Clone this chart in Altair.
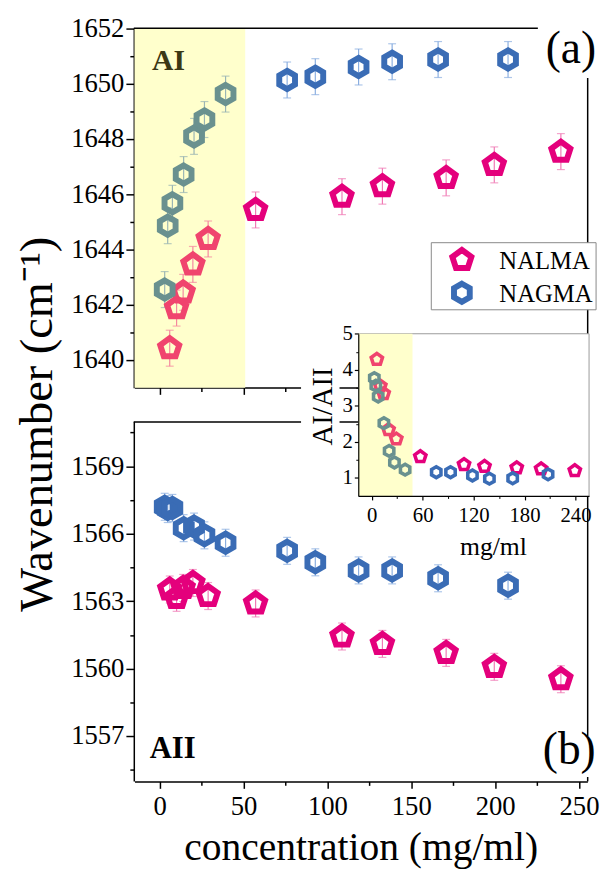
import altair as alt
import pandas as pd

# ---------------- data ----------------
NALMA_CONC = [6.0, 10.1, 14.0, 19.8, 28.9, 57.2, 108.7, 132.8, 170.8, 199.5, 239.2]
NAGMA_CONC = [3.0, 4.8, 7.6, 14.3, 20.5, 26.7, 39.3, 76.0, 92.8, 118.6, 138.6, 166.0, 207.7]
NALMA_LOW_N = 5
NAGMA_LOW_N = 7

NALMA_AI = [1640.43, 1641.88, 1642.45, 1643.46, 1644.38, 1645.43, 1645.91, 1646.29, 1646.59, 1647.06, 1647.54]
NAGMA_AI = [1642.55, 1644.86, 1645.67, 1646.71, 1648.09, 1648.70, 1649.62, 1650.13, 1650.25, 1650.60, 1650.79, 1650.87, 1650.87]
NALMA_AII = [1563.52, 1563.15, 1563.59, 1563.81, 1563.23, 1562.90, 1561.43, 1561.10, 1560.70, 1560.08, 1559.53]
NAGMA_AII = [1567.20, 1567.10, 1567.15, 1566.25, 1566.32, 1565.93, 1565.60, 1565.24, 1564.73, 1564.37, 1564.37, 1564.02, 1563.69]
NALMA_RATIO = [4.29, 3.55, 3.34, 2.34, 2.08, 1.59, 1.37, 1.32, 1.28, 1.25, 1.20]
NAGMA_RATIO = [3.77, 3.56, 3.26, 2.52, 1.75, 1.43, 1.23, 1.16, 1.16, 1.07, 0.98, 0.99, 1.10]

TOP_ERR = 0.65
BOT_ERR = 0.6

LEGEND_NAMES = ["NALMA", "NAGMA"]
SERIES = ["NALMA", "NAGMA", "NALMA low", "NAGMA low"]
SERIES_COLORS = ["#e4007c", "#3a6cb5", "#f0446e", "#6a918f"]
ERR_COLORS = {"NALMA": "#f07ab5", "NAGMA": "#8aaee0", "NALMA low": "#f5889f", "NAGMA low": "#9ab5b4"}
PENT = "M0,-1.1L1.046,-0.34L0.647,0.89L-0.647,0.89L-1.046,-0.34Z"
HEX = "M0,-1L0.866,-0.5L0.866,0.5L0,1L-0.866,0.5L-0.866,-0.5Z"
SERIES_SHAPES = [PENT, HEX, PENT, HEX]

X_TICKS = [0, 50, 100, 150, 200, 250]
X_MINOR = [25, 75, 125, 175, 225]
TOP_TICKS = [1640, 1642, 1644, 1646, 1648, 1650, 1652]
TOP_MINOR = [1641, 1643, 1645, 1647, 1649, 1651]
BOT_TICKS = [1557, 1560, 1563, 1566, 1569]
BOT_MINOR = [1555.5, 1558.5, 1561.5, 1564.5, 1567.5, 1570.5]
IN_X_TICKS = [0, 60, 120, 180, 240]
IN_Y_TICKS = [1, 2, 3, 4, 5]
IN_Y_MINOR = [1.5, 2.5, 3.5, 4.5]

X_DOM = [-15, 255]
TOP_DOM = [1639, 1652]
BOT_DOM = [1555, 1571]
IN_X_DOM = [-16, 256]
IN_Y_DOM = [0.5, 5]
SHADE_MAIN = [-15, 51]
SHADE_INSET = [-16, 48]

FONT = "Liberation Serif, Times New Roman, serif"
YELLOW = "#ffffcc"
W, H = 601, 868


def frame(conc, vals, name, low_n, use_low):
    rows = []
    for i, (c, v) in enumerate(zip(conc, vals)):
        g = f"{name} low" if (use_low and i < low_n) else name
        rows.append({"conc": c, "val": v, "grp": g, "ecol": ERR_COLORS[g]})
    return pd.DataFrame(rows)


top_df = pd.concat([frame(NALMA_CONC, NALMA_AI, "NALMA", NALMA_LOW_N, True),
                    frame(NAGMA_CONC, NAGMA_AI, "NAGMA", NAGMA_LOW_N, True)], ignore_index=True)
bot_df = pd.concat([frame(NALMA_CONC, NALMA_AII, "NALMA", NALMA_LOW_N, False),
                    frame(NAGMA_CONC, NAGMA_AII, "NAGMA", NAGMA_LOW_N, False)], ignore_index=True)
in_df = pd.concat([frame(NALMA_CONC, NALMA_RATIO, "NALMA", NALMA_LOW_N, True),
                   frame(NAGMA_CONC, NAGMA_RATIO, "NAGMA", NAGMA_LOW_N, True)], ignore_index=True)

color_enc = alt.Color("grp:N", scale=alt.Scale(domain=SERIES, range=SERIES_COLORS), legend=None)
shape_enc = alt.Shape("grp:N", scale=alt.Scale(domain=SERIES, range=SERIES_SHAPES), legend=None)


def lin(dom, rng):
    return alt.Scale(domain=dom, range=rng, nice=False, zero=False)


def axis(orient, offset, values, labels=True, tick=7, font=27, pad=7, domain=True, z=0, width=1.5):
    return alt.Axis(orient=orient, offset=offset, values=values, labels=labels, title=None,
                    tickSize=tick, labelFontSize=font, labelPadding=pad, domain=domain,
                    grid=False, zindex=z, tickWidth=width, domainWidth=width, format="d",
                    labelFont=FONT, labelColor="black", tickColor="black", domainColor="black")


def panel(df, xs, ys, xax, yax, xdom_shade, ydom, err, size, sw):
    layers = []
    if xdom_shade is not None:
        sd = pd.DataFrame({"x0": [xdom_shade[0]], "x1": [xdom_shade[1]], "y0": [ydom[0]], "y1": [ydom[1]]})
        layers.append(alt.Chart(sd).mark_rect(color=YELLOW).encode(
            x=alt.X("x0:Q", scale=xs, axis=xax), x2="x1:Q",
            y=alt.Y("y0:Q", scale=ys, axis=yax), y2="y1:Q"))
    base = alt.Chart(df)
    if err is not None:
        eb = base.transform_calculate(lo=f"datum.val - {err}", hi=f"datum.val + {err}")
        layers.append(eb.mark_rule(strokeWidth=1.2).encode(
            x=alt.X("conc:Q", scale=xs, axis=xax),
            y=alt.Y("lo:Q", scale=ys, axis=yax), y2="hi:Q",
            color=alt.Color("ecol:N", scale=None)))
        for f in ["lo", "hi"]:
            layers.append(eb.mark_tick(orient="horizontal", size=8, thickness=1.2).encode(
                x=alt.X("conc:Q", scale=xs, axis=xax),
                y=alt.Y(f"{f}:Q", scale=ys, axis=yax),
                color=alt.Color("ecol:N", scale=None)))
    layers.append(base.mark_point(filled=False, size=size, strokeWidth=sw, opacity=1, strokeJoin="miter").encode(
        x=alt.X("conc:Q", scale=xs, axis=xax),
        y=alt.Y("val:Q", scale=ys, axis=yax),
        color=color_enc, shape=shape_enc))
    return alt.layer(*layers)


def minor(xs, ys, xax, yax, xv, yv):
    d = pd.DataFrame({"a": [xv], "b": [yv]})
    return alt.Chart(d).mark_point(opacity=0, size=1).encode(
        x=alt.X("a:Q", scale=xs, axis=xax), y=alt.Y("b:Q", scale=ys, axis=yax))


# scales (pixel ranges inside one canvas)
X_RNG = [128.2, 587.2]
TOP_RNG = [379.0, 14.7]
BOT_RNG = [777.6, 413.1]
IN_X_RNG = [354.9, 588.9]
IN_Y_RNG = [488.7, 324.3]

top_panel = panel(top_df, lin(X_DOM, X_RNG), lin(TOP_DOM, TOP_RNG),
                  axis("bottom", -489.3, X_TICKS, labels=False),
                  axis("left", -127.5, TOP_TICKS, pad=2, tick=8),
                  SHADE_MAIN, TOP_DOM, TOP_ERR, 340, 6)
top_minor = minor(lin(X_DOM, X_RNG), lin(TOP_DOM, TOP_RNG),
                  axis("bottom", -489.3, X_MINOR, labels=False, tick=4, domain=False),
                  axis("left", -127.5, TOP_MINOR, labels=False, tick=4, domain=False),
                  0, 1645)
bot_panel = panel(bot_df, lin(X_DOM, X_RNG), lin(BOT_DOM, BOT_RNG),
                  axis("bottom", -90, X_TICKS, pad=6),
                  axis("left", -127.5, BOT_TICKS, pad=2, tick=8),
                  None, BOT_DOM, BOT_ERR, 340, 6)
bot_minor = minor(lin(X_DOM, X_RNG), lin(BOT_DOM, BOT_RNG),
                  axis("bottom", -90, X_MINOR, labels=False, tick=4, domain=False),
                  axis("left", -127.5, BOT_MINOR, labels=False, tick=4, domain=False),
                  0, 1563)

one = pd.DataFrame({"k": [0]})


def hline(x1, x2, y, color="black", w=1.5):
    return alt.Chart(one).mark_rule(color=color, strokeWidth=w).encode(
        x=alt.value(x1), x2=alt.value(x2), y=alt.value(y))


def vline(x, y1, y2, color="black", w=1.5):
    return alt.Chart(one).mark_rule(color=color, strokeWidth=w).encode(
        x=alt.value(x), y=alt.value(y1), y2=alt.value(y2))


def label(txt, x, y, size, align="left", baseline="alphabetic", angle=0, weight="normal", color="black"):
    return alt.Chart(one).mark_text(text=txt, font=FONT, fontSize=size, align=align, baseline=baseline,
                                    angle=angle, fontWeight=weight, color=color).encode(
        x=alt.value(x), y=alt.value(y))


deco = alt.layer(
    vline(587.5, 65, 732),
    vline(587.5, 773.5, 778),
    hline(127.5, 537, 14.7),
    hline(127.5, 587.5, 413.7),
    alt.Chart(one).mark_rect(color="white").encode(
        x=alt.value(297), x2=alt.value(336), y=alt.value(330), y2=alt.value(452)),
    label("AI", 146, 57, 30, weight="bold", color="#3b3814"),
    label("AII", 143.7, 754, 31, weight="bold"),
    label("(a)", 545, 50, 46),
    label("(b)", 542, 760, 46),
    label("Wavenumber (cm⁻¹)", 31, 416, 47, align="center", baseline="middle", angle=270),
    label("concentration (mg/ml)", 358, 858, 40, align="center"),
    label("AI/AII", 319, 398, 29, align="center", baseline="middle", angle=270),
    label("mg/ml", 492, 549, 26, align="center"),
)

# legend box (drawn from the same colour / shape scales)
leg_rows = []
for i, name in enumerate(LEGEND_NAMES):
    leg_rows.append(alt.Chart(pd.DataFrame({"grp": [name]})).mark_point(
        filled=False, size=340, strokeWidth=6, opacity=1, strokeJoin="miter").encode(
        x=alt.value(460), y=alt.value(249.5 + 33.3 * i), color=color_enc, shape=shape_enc))
    leg_rows.append(label(name, 498, 258.7 + 33.3 * i, 25))
legend = alt.layer(
    alt.Chart(one).mark_rect(color="white", stroke="#888888", strokeWidth=1).encode(
        x=alt.value(429), x2=alt.value(596), y=alt.value(232), y2=alt.value(300)),
    *leg_rows,
)

inset_bg = alt.layer(
    alt.Chart(one).mark_rect(color="white").encode(
        x=alt.value(IN_X_RNG[0]), x2=alt.value(IN_X_RNG[1]), y=alt.value(IN_Y_RNG[1]), y2=alt.value(IN_Y_RNG[0])),
    hline(IN_X_RNG[0], IN_X_RNG[1], IN_Y_RNG[1], color="#999999", w=1),
    vline(IN_X_RNG[1], IN_Y_RNG[1], IN_Y_RNG[0], color="#999999", w=1),
)
inset_panel = panel(in_df, lin(IN_X_DOM, IN_X_RNG), lin(IN_Y_DOM, IN_Y_RNG),
                    axis("bottom", -379.3, IN_X_TICKS, tick=4, font=21, pad=5, z=1, width=1.2),
                    axis("left", -355, IN_Y_TICKS, tick=4, font=21, pad=2, z=1, width=1.2),
                    SHADE_INSET, IN_Y_DOM, None, 120, 3.6)
inset_minor = minor(lin(IN_X_DOM, IN_X_RNG), lin(IN_Y_DOM, IN_Y_RNG),
                    axis("bottom", -379.3, [30, 90, 150, 210], labels=False, tick=2.5, domain=False, z=1, width=1),
                    axis("left", -355, IN_Y_MINOR, labels=False, tick=2.5, domain=False, z=1, width=1),
                    0, 2)

chart = alt.layer(top_panel, top_minor, bot_panel, bot_minor, deco, legend, inset_bg, inset_panel,
                  inset_minor).resolve_scale(
    x="independent", y="independent"
).properties(
    width=W, height=H, padding=0, autosize=alt.AutoSizeParams(type="none")
).configure_view(stroke=None).configure_axis(grid=False)

chart.save("out.html", embed_options={"renderer": "svg", "actions": False})
